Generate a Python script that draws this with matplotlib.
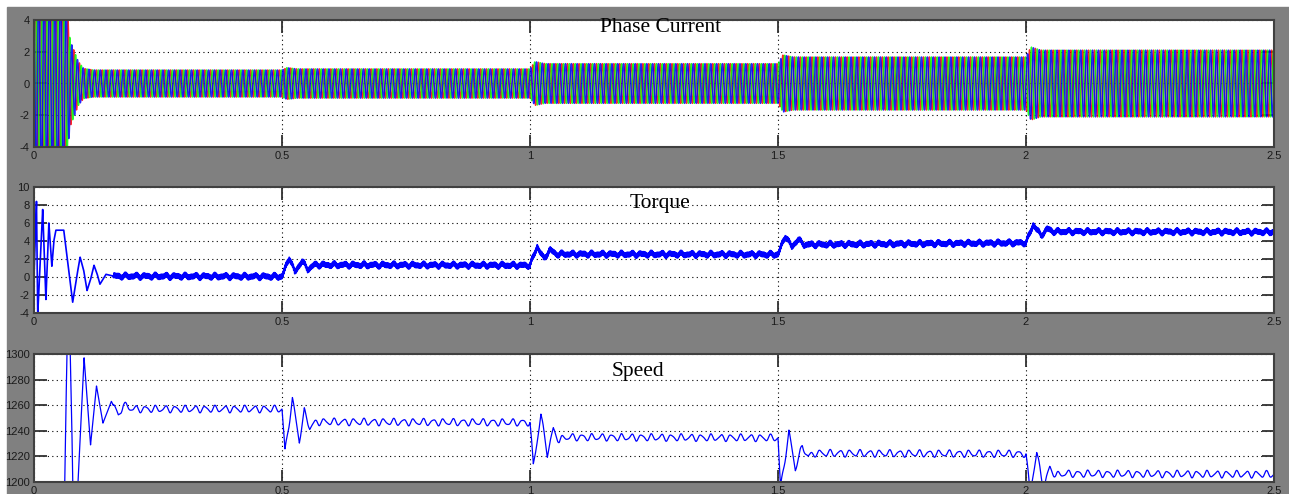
import numpy as np
import matplotlib
matplotlib.use("Agg")
import matplotlib.pyplot as plt
from matplotlib.patches import Rectangle

plt.rcParams["axes.unicode_minus"] = False

# ---- values ----
x_ticks = [0, 0.5, 1, 1.5, 2, 2.5]
x_tick_labels = ["0", "0.5", "1", "1.5", "2", "2.5"]
panel_titles = ["Phase Current", "Torque", "Speed"]

# phase current: peak amplitude of the band (A) and electrical frequency (Hz)
current_env_t = [0.0, 0.062, 0.073, 0.089, 0.100, 0.120, 0.500, 0.510, 0.530,
                 1.000, 1.010, 1.030, 1.500, 1.510, 1.530, 2.000, 2.010, 2.030, 2.500]
current_env_v = [7.0, 6.0, 2.7, 1.4, 0.95, 0.85, 0.85, 1.0, 0.92,
                 0.92, 1.38, 1.25, 1.25, 1.8, 1.67, 1.67, 2.3, 2.1, 2.1]
current_freq_t = [0.0, 0.065, 0.5, 1.0, 1.5, 2.0, 2.5]
current_freq_v = [95.0, 87.3, 86.5, 85.7, 84.9, 84.0, 84.0]

# torque (N.m): turning points of the trace
torque_t = [0.0, 0.005, 0.0075, 0.0175, 0.024, 0.030, 0.036, 0.040, 0.044, 0.060,
            0.066, 0.078, 0.086, 0.093, 0.100, 0.107, 0.114, 0.121, 0.127, 0.133,
            0.145, 0.160, 0.500, 0.515, 0.526, 0.540, 0.552, 0.565, 1.000, 1.0147,
            1.028, 1.040, 1.052, 1.500, 1.515, 1.528, 1.540, 1.552, 2.000, 2.015,
            2.030, 2.043, 2.055, 2.500]
torque_v = [0.0, 8.4, -4.2, 7.5, -2.5, 6.0, 1.2, 4.0, 5.2, 5.2,
            2.5, -2.8, 0.0, 2.2, 0.8, -1.5, -0.3, 1.3, 0.4, -0.8,
            0.3, 0.1, 0.05, 2.2, 0.5, 1.8, 0.85, 1.35, 1.3, 3.4,
            2.0, 3.05, 2.55, 2.5, 4.6, 3.3, 4.2, 3.6, 3.8, 5.85,
            4.6, 5.35, 5.05, 5.0]

# speed (rpm): turning points of the trace
speed_t = [0.0, 0.060, 0.064, 0.068, 0.072, 0.076, 0.079, 0.085, 0.090, 0.101,
           0.114, 0.126, 0.139, 0.156, 0.170, 0.180, 0.200, 0.500, 0.506, 0.521,
           0.535, 0.545, 0.556, 0.570, 1.000, 1.0067, 1.022, 1.035, 1.047, 1.059,
           1.070, 1.500, 1.505, 1.522, 1.535, 1.549, 1.561, 1.575, 2.000, 2.008,
           2.0216, 2.035, 2.048, 2.060, 2.075, 2.500]
speed_v = [0.0, 1150, 1250, 1330, 1320, 1250, 1180, 1170, 1210, 1297,
           1229, 1275, 1246, 1263, 1252, 1260, 1257, 1257, 1223.7, 1264.6,
           1232.3, 1255, 1242.7, 1247, 1246.5, 1212.5, 1252.3, 1222, 1241, 1232,
           1235, 1234.5, 1195, 1238.6, 1210.7, 1228, 1219.8, 1222.5, 1222, 1192,
           1222.6, 1196, 1211, 1205, 1206.5, 1206]

# ripple seen on the steady parts
ripple_freq = 50.0
torque_ripple = 0.12
torque_fast_ripple = 0.25
speed_ripple = 2.3

# ---- build the traces ----
t = np.linspace(0, 2.5, 50001)
dt = t[1] - t[0]

freq = np.interp(t, current_freq_t, current_freq_v)
theta = 2 * np.pi * np.cumsum(freq) * dt
env = np.interp(t, current_env_t, current_env_v)
ia = env * np.sin(theta)
ib = env * np.sin(theta - 2 * np.pi / 3)
ic = env * np.sin(theta + 2 * np.pi / 3)

settled = (t > 0.16).astype(float)
torque = np.interp(t, torque_t, torque_v)
torque += settled * (torque_ripple * np.sin(2 * np.pi * ripple_freq * t)
                     + torque_fast_ripple * np.sin(2 * np.pi * 498 * t)
                     + 0.08 * np.sin(2 * np.pi * 83 * t))
speed = np.interp(t, speed_t, speed_v)
speed += settled * (speed_ripple * np.sin(2 * np.pi * ripple_freq * t)
                    + 0.7 * np.sin(2 * np.pi * 83 * t))

# ---- figure ----
fig = plt.figure(figsize=(12.89, 4.94), dpi=100)
fig.patch.set_facecolor("white")
fig.add_artist(Rectangle((7 / 1289, 0), 1 - 7 / 1289, 1 - 7 / 494,
                         transform=fig.transFigure, color="#808080", zorder=-1))

left = 34 / 1289
width = 1240 / 1289
ax1 = fig.add_axes([left, 347 / 494, width, 127 / 494])
ax2 = fig.add_axes([left, 181 / 494, width, 126 / 494])
ax3 = fig.add_axes([left, 12 / 494, width, 128 / 494])

# slightly transparent so the three phases blend like the scope picture
ax1.plot(t, ia, color="#ff0000", lw=1.1, alpha=0.85)
ax1.plot(t, ib, color="#00ff00", lw=1.1, alpha=0.85)
ax1.plot(t, ic, color="#0000ff", lw=1.1, alpha=0.85)
ax1.set_ylim(-4, 4)
ax1.set_yticks([-4, -2, 0, 2, 4])

ax2.plot(t, torque, color="#0000ff", lw=1.2)
ax2.set_ylim(-4, 10)
ax2.set_yticks(range(-4, 11, 2))

ax3.plot(t, speed, color="#0000ff", lw=0.9)
ax3.set_ylim(1200, 1300)
ax3.set_yticks(range(1200, 1301, 20))

title_pos = [(0.505, 0.906), (0.505, 0.833), (0.487, 0.828)]
for ax, title, pos in zip([ax1, ax2, ax3], panel_titles, title_pos):
    ax.set_xlim(0, 2.5)
    ax.set_xticks(x_ticks)
    ax.set_xticklabels(x_tick_labels)
    ax.set_facecolor("white")
    ax.grid(True, color="black", linestyle=(0, (1, 3)), linewidth=0.8)
    ax.tick_params(direction="in", length=9, width=1.3, color="#303030",
                   top=True, right=True, labelsize=8, labelcolor="#1a1a1a", pad=3)
    for lab in ax.get_xticklabels() + ax.get_yticklabels():
        lab.set_family("Liberation Sans")
    for sp in ax.spines.values():
        sp.set_color("#404040")
        sp.set_linewidth(1.5)
    ax.text(pos[0], pos[1], title, transform=ax.transAxes, ha="center", va="baseline",
            family="Liberation Serif", fontsize=15.5, color="black")

plt.savefig("out.png", dpi=100)
